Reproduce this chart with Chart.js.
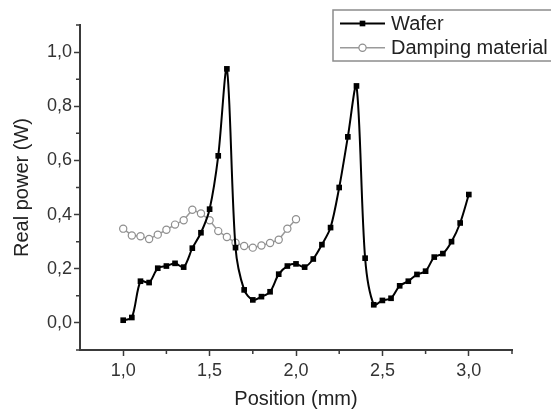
<!DOCTYPE html>
<html>
<head>
<meta charset="utf-8">
<script src="https://cdn.jsdelivr.net/npm/chart.js@4/dist/chart.umd.min.js"></script>
<style>
html,body{margin:0;padding:0;background:#fff;}
#wrap{width:551px;height:411px;position:relative;}
</style>
</head>
<body>
<div id="wrap"><canvas id="c"></canvas></div>
<script>
// ---- data ----
const waferX = [1.00,1.05,1.10,1.15,1.20,1.25,1.30,1.35,1.40,1.45,1.50,1.55,1.60,1.65,1.70,1.75,1.80,1.85,1.90,1.95,2.00,2.05,2.10,2.15,2.20,2.25,2.30,2.35,2.40,2.45,2.50,2.55,2.60,2.65,2.70,2.75,2.80,2.85,2.90,2.95,3.00];
const waferY = [0.010,0.020,0.154,0.149,0.202,0.210,0.220,0.206,0.276,0.333,0.420,0.617,0.938,0.278,0.122,0.085,0.097,0.115,0.180,0.210,0.218,0.206,0.236,0.289,0.352,0.500,0.687,0.875,0.239,0.067,0.083,0.091,0.137,0.154,0.179,0.191,0.243,0.256,0.300,0.369,0.474];
const dampX = [1.00,1.05,1.10,1.15,1.20,1.25,1.30,1.35,1.40,1.45,1.50,1.55,1.60,1.65,1.70,1.75,1.80,1.85,1.90,1.95,2.00];
const dampY = [0.348,0.323,0.320,0.310,0.326,0.344,0.363,0.379,0.418,0.404,0.379,0.339,0.317,0.296,0.284,0.278,0.286,0.295,0.307,0.348,0.383];
const seriesNames = ['Wafer','Damping material'];
const xMajorTicks = [1.0,1.5,2.0,2.5,3.0];
const xMinorTicks = [1.25,1.75,2.25,2.75,3.25];
const yMajorTicks = [0.0,0.2,0.4,0.6,0.8,1.0];
const yMinorTicks = [-0.1,0.1,0.3,0.5,0.7,0.9,1.1];
const xTitle = 'Position (mm)';
const yTitle = 'Real power (W)';

const AX = '#3a3a3a';
const FONT = "'Liberation Sans', Arial, sans-serif";
const fmt = v => Number(v).toFixed(1).replace('.', ',');

const minorTicksPlugin = {
  id: 'minorTicks',
  afterDraw(chart) {
    const ctx = chart.ctx, xs = chart.scales.x, ys = chart.scales.y;
    ctx.save();
    ctx.strokeStyle = AX; ctx.lineWidth = 1.5;
    ctx.beginPath();
    xMinorTicks.forEach(v => { const p = xs.getPixelForValue(v); ctx.moveTo(p, xs.top); ctx.lineTo(p, xs.top + 4); });
    yMinorTicks.forEach(v => { const p = ys.getPixelForValue(v); ctx.moveTo(ys.right, p); ctx.lineTo(ys.right - 4, p); });
    ctx.stroke();
    ctx.restore();
  }
};

const legendPlugin = {
  id: 'boxLegend',
  afterDraw(chart) {
    const ctx = chart.ctx;
    ctx.save();
    ctx.strokeStyle = '#8c8c8c'; ctx.lineWidth = 1.5;
    ctx.strokeRect(333, 10, 260, 51);
    const rows = [23.5, 47.8];
    chart.data.datasets.forEach((ds, i) => {
      const y = rows[i];
      ctx.strokeStyle = ds.borderColor; ctx.lineWidth = ds.borderWidth;
      ctx.beginPath(); ctx.moveTo(340, y); ctx.lineTo(385, y); ctx.stroke();
      ctx.fillStyle = ds.pointBackgroundColor; ctx.strokeStyle = ds.pointBorderColor;
      ctx.lineWidth = ds.pointBorderWidth;
      Chart.helpers.drawPoint(ctx, {pointStyle: ds.pointStyle, radius: ds.pointRadius, borderWidth: ds.pointBorderWidth, rotation: 0}, 362.5, y);
      ctx.fillStyle = '#222';
      ctx.font = "20px " + FONT;
      ctx.textBaseline = 'middle'; ctx.textAlign = 'left';
      ctx.fillText(ds.label, 391, y + 1);
    });
    ctx.restore();
  }
};

new Chart(document.getElementById('c'), {
  type: 'line',
  data: {
    datasets: [
      {
        label: seriesNames[0],
        data: waferX.map((x, i) => ({x: x, y: waferY[i]})),
        borderColor: '#000', borderWidth: 2,
        pointStyle: 'rect', pointRadius: 4, pointBackgroundColor: '#000', pointBorderColor: '#000', pointBorderWidth: 0,
        tension: 0.3, fill: false
      },
      {
        label: seriesNames[1],
        data: dampX.map((x, i) => ({x: x, y: dampY[i]})),
        borderColor: '#9a9a9a', borderWidth: 1.5,
        pointStyle: 'circle', pointRadius: 3.6, pointBackgroundColor: '#fff', pointBorderColor: '#8f8f8f', pointBorderWidth: 1.2,
        tension: 0, fill: false
      }
    ]
  },
  options: {
    responsive: true, maintainAspectRatio: false, animation: false, devicePixelRatio: 1,
    layout: {padding: {left: 0, right: 39, top: 25, bottom: 0}},
    plugins: {legend: {display: false}, tooltip: {enabled: false}, title: {display: false}},
    scales: {
      x: {
        type: 'linear', min: 0.75, max: 3.25,
        afterBuildTicks: s => { s.ticks = xMajorTicks.map(v => ({value: v})); },
        afterFit: s => { s.height = 61; },
        grid: {drawOnChartArea: false, drawTicks: true, tickLength: 6, tickColor: AX, tickWidth: 1.5},
        border: {display: true, color: AX, width: 2},
        ticks: {color: '#333', font: {family: FONT, size: 18}, padding: 4, maxRotation: 0, autoSkip: false, callback: v => fmt(v)},
        title: {display: true, text: xTitle, color: '#222', font: {family: FONT, size: 20}, padding: {top: 0, bottom: 0}}
      },
      y: {
        type: 'linear', min: -0.1, max: 1.1,
        afterBuildTicks: s => { s.ticks = yMajorTicks.map(v => ({value: v})); },
        afterFit: s => { s.width = 80; },
        grid: {drawOnChartArea: false, drawTicks: true, tickLength: 6, tickColor: AX, tickWidth: 1.5},
        border: {display: true, color: AX, width: 2},
        ticks: {color: '#333', font: {family: FONT, size: 18}, padding: 2, autoSkip: false, callback: v => fmt(v)},
        title: {display: true, text: yTitle, color: '#222', font: {family: FONT, size: 20}, padding: {top: 10, bottom: 0}}
      }
    }
  },
  plugins: [minorTicksPlugin, legendPlugin]
});
</script>
</body>
</html>
